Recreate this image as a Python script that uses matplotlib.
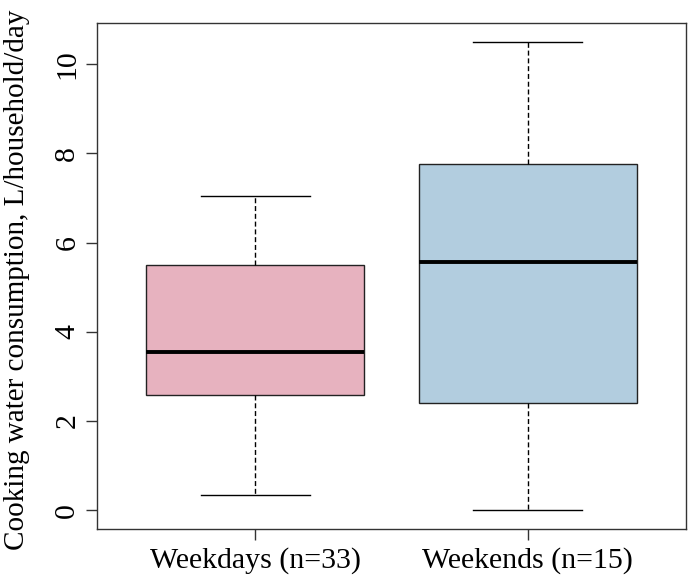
import matplotlib
matplotlib.use("Agg")
import matplotlib.pyplot as plt

# data (L/household/day)
groups = ["Weekdays (n=33)", "Weekends (n=15)"]
whislo = [0.35, 0.0]
q1 = [2.59, 2.40]
med = [3.55, 5.56]
q3 = [5.50, 7.76]
whishi = [7.05, 10.50]
colors = ["#E7B2BF", "#B2CDDF"]

plt.rcParams['font.family'] = ['Liberation Serif', 'DejaVu Serif']

fig = plt.figure(figsize=(6.88, 5.79), dpi=100)
ax = fig.add_axes([97/688, 50/579, 589/688, 506/579])

stats = []
for i in range(len(groups)):
    stats.append(dict(label=groups[i], whislo=whislo[i], q1=q1[i], med=med[i],
                      q3=q3[i], whishi=whishi[i], fliers=[]))

bp = ax.bxp(stats, positions=[1, 2], widths=0.8, patch_artist=True,
            showfliers=False,
            boxprops=dict(edgecolor='#222222', linewidth=1.0),
            medianprops=dict(color='black', linewidth=2.8, solid_capstyle='butt'),
            whiskerprops=dict(color='black', linewidth=1.0, linestyle=(0, (3.6, 2.0))),
            capprops=dict(color='black', linewidth=1.0),
            capwidths=0.4)
for patch, c in zip(bp['boxes'], colors):
    patch.set_facecolor(c)

ax.set_xlim(0.42, 2.58)
ax.set_ylim(-0.42, 10.92)
ax.set_yticks([0, 2, 4, 6, 8, 10])
ax.set_xticks([1, 2])
ax.set_xticklabels(groups)

for s in ax.spines.values():
    s.set_color('#333333')
    s.set_linewidth(1.0)

ax.tick_params(axis='both', direction='out', length=8, width=1.0, color='#333333',
               labelsize=21.5)
ax.tick_params(axis='x', pad=5)
ax.tick_params(axis='y', pad=4)
for lab in ax.get_yticklabels():
    lab.set_rotation(90)
    lab.set_va('center')

ax.set_ylabel("Cooking water consumption, L/household/day", fontsize=21)
ax.yaxis.set_label_coords(-0.135, 0.492)
ax.yaxis.label.set_va('center')

fig.savefig("out.png", dpi=100)
